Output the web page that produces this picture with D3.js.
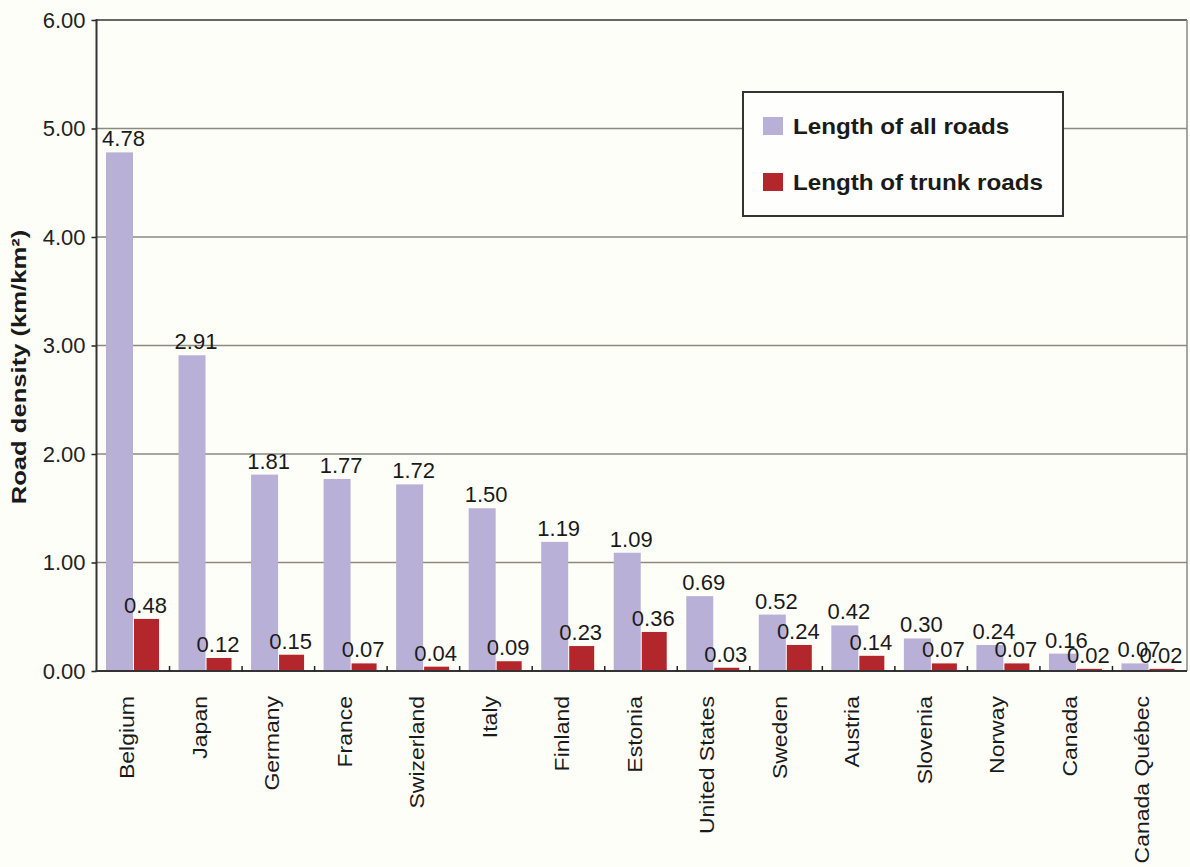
<!DOCTYPE html>
<html>
<head>
<meta charset="utf-8">
<script src="https://cdn.jsdelivr.net/npm/d3@7"></script>
<style>
  body { margin: 0; background: #fefef9; }
  svg { display: block; }
  text { font-family: "Liberation Sans", Arial, sans-serif; fill: #1a1a1a; }
</style>
</head>
<body>
<svg id="chart" width="1190" height="867"></svg>
<script>
// chart data
var countries = ["Belgium", "Japan", "Germany", "France", "Swizerland", "Italy", "Finland", "Estonia",
  "United States", "Sweden", "Austria", "Slovenia", "Norway", "Canada", "Canada Québec"];
var allRoads = [4.78, 2.91, 1.81, 1.77, 1.72, 1.50, 1.19, 1.09, 0.69, 0.52, 0.42, 0.30, 0.24, 0.16, 0.07];
var trunkRoads = [0.48, 0.12, 0.15, 0.07, 0.04, 0.09, 0.23, 0.36, 0.03, 0.24, 0.14, 0.07, 0.07, 0.02, 0.02];
var yTicks = [0, 1, 2, 3, 4, 5, 6];
var seriesNames = ["Length of all roads", "Length of trunk roads"];

var lavender = "#b8b0d6", red = "#b3262c";

var svg = d3.select("#chart");
// plot edges (not "top": that name belongs to window)
var pLeft = 96.5, pRight = 1187, pTop = 20, pBottom = 671;

var x = d3.scaleBand().domain(countries).range([pLeft + 0.5, pRight - 2]).padding(0);
var y = d3.scaleLinear().domain([0, 6]).range([pBottom, pTop]);

//grid lines
svg.append("g").selectAll("line")
  .data(yTicks.filter(function(d){ return d > 0; }))
  .enter().append("line")
  .attr("x1", pLeft).attr("x2", pRight)
  .attr("y1", function(d){ return y(d); }).attr("y2", function(d){ return y(d); })
  .style("stroke", function(d){ return d == 6 ? "#666" : "#8a8a80"; })
  .style("stroke-width", function(d){ return d == 6 ? 2 : 1.3; });

// right border
svg.append("line").attr("x1", pRight).attr("x2", pRight).attr("y1", pTop).attr("y2", pBottom)
  .style("stroke", "#888").style("stroke-width", 1.5);

// y axis
var yAxis = d3.axisLeft(y).tickValues(yTicks).tickFormat(d3.format(".2f")).tickSize(5).tickPadding(6);
var gy = svg.append("g").attr("transform", "translate(" + pLeft + ",0)").call(yAxis);
gy.select(".domain").remove();
gy.selectAll(".tick line").style("stroke", "#222").style("stroke-width", 1.5);
gy.selectAll(".tick text").style("font-size", "22px").style("fill", "#222")
  .style("font-family", "'Liberation Sans', Arial, sans-serif");
svg.append("line").attr("x1", pLeft).attr("x2", pLeft).attr("y1", pTop - 1).attr("y2", pBottom + 1)
  .style("stroke", "#333").style("stroke-width", 2);

// bars
var bw1 = 27, bw2 = 25, off1 = 9, off2 = 37;
var g = svg.append("g");
g.selectAll(".all").data(countries).enter().append("rect")
  .attr("x", function(d){ return x(d) + off1; })
  .attr("width", bw1)
  .attr("y", function(d, i){ return y(allRoads[i]); })
  .attr("height", function(d, i){ return pBottom - y(allRoads[i]); })
  .style("fill", lavender);
g.selectAll(".trunk").data(countries).enter().append("rect")
  .attr("x", function(d){ return x(d) + off2; })
  .attr("width", bw2)
  .attr("y", function(d, i){ return y(trunkRoads[i]); })
  .attr("height", function(d, i){ return pBottom - y(trunkRoads[i]); })
  .style("fill", red);

// value labels
g.selectAll(".lab1").data(countries).enter().append("text")
  .attr("x", function(d){ return x(d) + off1 + bw1 / 2 + 4; })
  .attr("y", function(d, i){ return y(allRoads[i]) - 6; })
  .attr("text-anchor", "middle").style("font-size", "22px")
  .text(function(d, i){ return allRoads[i].toFixed(2); });
g.selectAll(".lab2").data(countries).enter().append("text")
  .attr("x", function(d){ return x(d) + off2 + bw2 / 2 - 1; })
  .attr("y", function(d, i){ return y(trunkRoads[i]) - 6; })
  .attr("text-anchor", "middle").style("font-size", "22px")
  .text(function(d, i){ return trunkRoads[i].toFixed(2); });

// x axis
svg.append("line").attr("x1", pLeft - 1).attr("x2", pRight).attr("y1", pBottom).attr("y2", pBottom)
  .style("stroke", "#333").style("stroke-width", 2);
svg.append("g").selectAll("line").data(countries.slice(1)).enter().append("line")
  .attr("x1", function(d){ return x(d); }).attr("x2", function(d){ return x(d); })
  .attr("y1", pBottom).attr("y2", pBottom - 5)
  .style("stroke", "#222").style("stroke-width", 1.5);

svg.append("g").selectAll("text").data(countries).enter().append("text")
  .attr("transform", function(d){ return "translate(" + (x(d) + 30) + ",696) rotate(-90) scale(1.15,1)"; })
  .attr("text-anchor", "end").attr("dy", "0.35em")
  .style("font-size", "20px")
  .text(function(d){ return d; });

// axis title
svg.append("text")
  .attr("transform", "translate(19,367) rotate(-90) scale(1.22,1)")
  .attr("text-anchor", "middle").attr("dy", "0.35em")
  .style("font-size", "21px").style("font-weight", "bold")
  .text("Road density (km/km²)");

// legend
var lg = svg.append("g");
lg.append("rect").attr("x", 743).attr("y", 92).attr("width", 320).attr("height", 124)
  .style("fill", "#fefefc").style("stroke", "#333").style("stroke-width", 2);
lg.selectAll(".sw").data(seriesNames).enter().append("rect")
  .attr("x", 763).attr("y", function(d, i){ return 117 + i * 56; })
  .attr("width", 20).attr("height", 18)
  .style("fill", function(d, i){ return i == 0 ? lavender : red; });
lg.selectAll(".lt").data(seriesNames).enter().append("text")
  .attr("transform", function(d, i){ return "translate(793," + (134 + i * 56) + ") scale(1.1,1)"; })
  .style("font-size", "22px").style("font-weight", "bold")
  .text(function(d){ return d; });
</script>
</body>
</html>
